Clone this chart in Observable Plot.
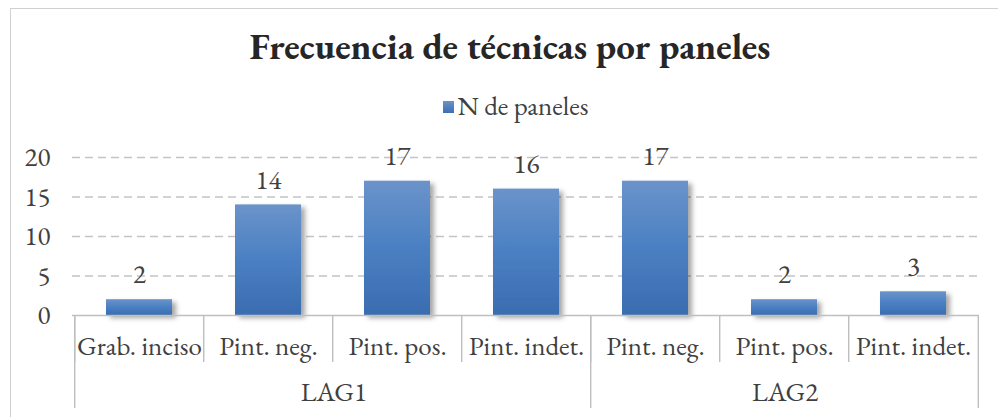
<!DOCTYPE html>
<html>
<head>
<meta charset="utf-8">
<script src="https://cdn.jsdelivr.net/npm/d3@7"></script>
<script src="https://cdn.jsdelivr.net/npm/@observablehq/plot@0.6"></script>
<style>
  html, body { margin: 0; padding: 0; background: #fff; width: 998px; height: 417px; overflow: hidden; }
  body { position: relative; color: #404040; }
  .ser { font-family: 'EB Garamond', 'Liberation Serif', serif; }
  #frame { position: absolute; left: 10px; top: 8px; width: 1000px; height: 420px; border: 1.5px solid #d0d0d0; box-sizing: border-box; }
  #header { position: relative; height: 120px; }
  #title { position: absolute; left: 0; width: 1020px; top: 25px; text-align: center; font-size: 37px; line-height: 42px; font-weight: bold; color: #262626; white-space: nowrap; }
  #legend { position: absolute; left: 0; width: 1032px; top: 91px; display: flex; justify-content: center; align-items: center; font-size: 27px; line-height: 30px; color: #404040; white-space: nowrap; }
  #legend .sw { width: 11px; height: 12px; margin-right: 3px; margin-top: 2px; background: linear-gradient(#6a93c9, #3d6fb1); }
  #chart { position: relative; }
</style>
</head>
<body>
<div id="frame"></div>
<div id="header">
  <div id="title" class="ser">Frecuencia de técnicas por paneles</div>
  <div id="legend" class="ser"><span class="sw"></span><span>N de paneles</span></div>
</div>
<div id="chart"></div>
<script>
const groups = ["LAG1", "LAG1", "LAG1", "LAG1", "LAG2", "LAG2", "LAG2"];
const categories = ["Grab. inciso", "Pint. neg.", "Pint. pos.", "Pint. indet.", "Pint. neg.", "Pint. pos.", "Pint. indet."];
const values = [2, 14, 17, 16, 17, 2, 3];
const yTicks = [0, 5, 10, 15, 20];
const groupNames = ["LAG1", "LAG2"];

const data = categories.map((c, i) => ({key: groups[i] + "|" + c, group: groups[i], category: c, value: values[i]}));
const keys = data.map(d => d.key);

const W = 998, H = 297;
const mL = 72, mR = 19, mT = 37, mB = 102;
const step = (W - mL - mR) / keys.length;
const FS = 27;

const groupData = groupNames.map(g => {
  const idx = data.map((d, i) => d.group === g ? i : -1).filter(i => i >= 0);
  return {group: g, first: keys[idx[0]], n: idx.length};
});

const plot = Plot.plot({
  width: W,
  height: H,
  marginLeft: mL,
  marginRight: mR,
  marginTop: mT,
  marginBottom: mB,
  style: {fontFamily: "'EB Garamond', 'Liberation Serif', serif", fontSize: FS + "px", color: "#404040", background: "transparent", overflow: "visible"},
  x: {domain: keys, paddingInner: 0.49, paddingOuter: 0.245, axis: null},
  y: {domain: [0, 20], axis: null},
  marks: [
    Plot.gridY([5, 10, 15, 20], {stroke: "#c4c4c4", strokeOpacity: 1, strokeWidth: 1.4, strokeDasharray: "8,5"}),
    Plot.axisY(yTicks, {tickSize: 0, tickPadding: 22, fontSize: FS, fill: "#404040", label: null}),
    Plot.barY(data, {x: "key", y: "value", fill: "url(#barGrad)"}),
    Plot.ruleY([0], {stroke: "#bfbfbf", strokeWidth: 1.6}),
    Plot.ruleX(keys, {x: d => d, dx: -step / 2, stroke: "#bfbfbf", strokeWidth: 1.4, insetTop: H - mT - mB, insetBottom: -47}),
    Plot.ruleX(groupData, {x: "first", dx: -step / 2, stroke: "#bfbfbf", strokeWidth: 1.4, insetTop: H - mT - mB, insetBottom: -93}),
    Plot.ruleX([keys[keys.length - 1]], {x: d => d, dx: step / 2, stroke: "#bfbfbf", strokeWidth: 1.4, insetTop: H - mT - mB, insetBottom: -93}),
    Plot.text(data, {x: "key", y: 0, text: "category", dy: 31, fontSize: FS, fill: "#404040"}),
    ...groupData.map(g => Plot.text([g], {x: "first", y: 0, text: "group", dx: (g.n - 1) * step / 2, dy: 77, fontSize: FS, fill: "#404040"})),
    Plot.text(data, {x: "key", y: "value", text: d => String(d.value), dy: -25, fontSize: FS, fill: "#404040"})
  ]
});

const svg = d3.select(plot);
const defs = svg.insert("defs", ":first-child");
const grad = defs.append("linearGradient").attr("id", "barGrad").attr("x1", 0).attr("y1", 0).attr("x2", 0).attr("y2", 1);
grad.append("stop").attr("offset", "0%").attr("stop-color", "#6b93ca");
grad.append("stop").attr("offset", "50%").attr("stop-color", "#4a80c3");
grad.append("stop").attr("offset", "100%").attr("stop-color", "#3a6cb0");
const f = defs.append("filter").attr("id", "shadow").attr("x", "-20%").attr("y", "-20%").attr("width", "150%").attr("height", "150%");
f.append("feDropShadow").attr("dx", 4).attr("dy", 3).attr("stdDeviation", 2.5).attr("flood-color", "#000").attr("flood-opacity", 0.35);
svg.select("g[aria-label='bar']").attr("filter", "url(#shadow)");

document.getElementById("chart").appendChild(plot);
</script>
</body>
</html>
